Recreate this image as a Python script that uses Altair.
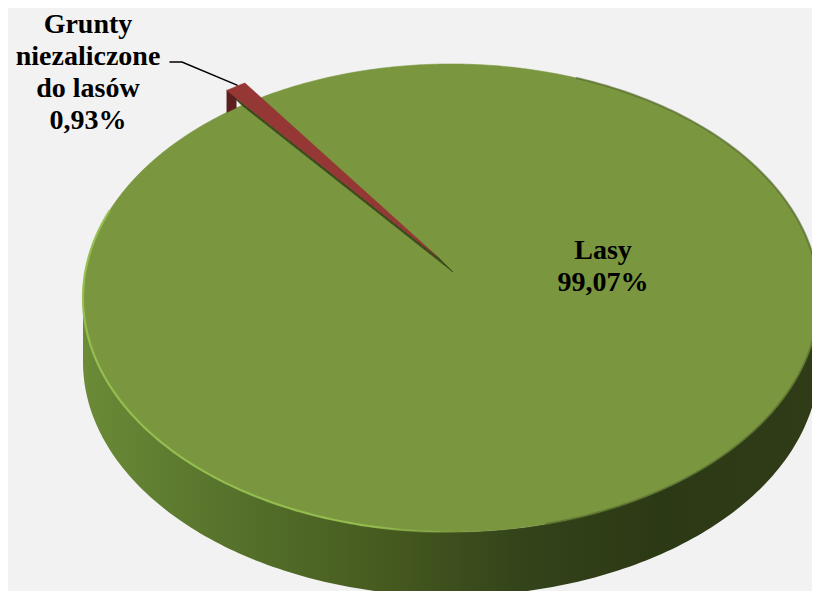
import math
import altair as alt
import pandas as pd

# ---------------- data ----------------
categories = ["Lasy", "Grunty\nniezaliczone\ndo lasów"]
values = [99.07, 0.93]

# ---------------- styles / layout ----------------
slice_colors = ["#7a963e", "#953735"]
wall_dark_red = "#5b1f1e"
gap_color = "#3b4a1b"
FONT = "'Liberation Serif', 'DejaVu Serif', serif"
W, H = 804, 583          # plot area (page px = data px, page margin 8)
OFF = 8
EX, EY, RX, RY = 451, 298, 368, 234   # projected top-face ellipse
CX, CY = 453, 272                      # projected pie centre
DEPTH = 64
START = 328.75                          # angle of first slice (deg, clockwise from 12 o'clock)
EXPLODE = [0, 28]
label_pos = [(603, 259), (88, 33)]
leader_start = [(170, 62), (182, 62)]

X = alt.X("x:Q", scale=alt.Scale(domain=[OFF, OFF + W], nice=False, zero=False), axis=None)
Y = alt.Y("y:Q", scale=alt.Scale(domain=[OFF, OFF + H], nice=False, zero=False, reverse=True), axis=None)


def rim(theta, ox=0.0, oy=0.0, dy=0.0):
    t = math.radians(theta)
    return (EX + RX * math.sin(t) + ox, EY - RY * math.cos(t) + oy + dy)


def arc_pts(a0, a1, step=1.0, **kw):
    n = max(2, int(math.ceil(abs(a1 - a0) / step)))
    return [rim(a0 + (a1 - a0) * i / n, **kw) for i in range(n + 1)]


def top_y(x):
    u = max(-1.0, min(1.0, (x - EX) / RX))
    return EY - RY * math.sqrt(1 - u * u)


def frame(pts):
    return pd.DataFrame({"x": [p[0] for p in pts], "y": [p[1] for p in pts], "i": list(range(len(pts)))})


def poly(pts, fill, sw=0.0, stroke=None):
    kw = dict(fill=fill, strokeWidth=sw, clip=True)
    kw["stroke"] = stroke if stroke is not None else (fill if isinstance(fill, str) else "transparent")
    return alt.Chart(frame(pts)).mark_line(**kw).encode(x=X, y=Y, order="i:Q")


def line(pts, stroke, sw, opacity=1.0):
    return alt.Chart(frame(pts)).mark_line(stroke=stroke, strokeWidth=sw, opacity=opacity, clip=True,
                                           strokeCap="round").encode(x=X, y=Y, order="i:Q")


# slice angles from the values
total = sum(values)
angles = []
a = START
for v in values:
    span = 360.0 * v / total
    angles.append((a, a + span))
    a += span

layers = []

# side wall (front half)
wall_pts = arc_pts(90, 270) + arc_pts(270, 90, dy=DEPTH)
wall_grad = alt.LinearGradient(
    gradient="linear", x1=0, x2=1, y1=0, y2=0,
    stops=[
        alt.GradientStop(offset=0.0, color="#6b8b37"),
        alt.GradientStop(offset=0.2, color="#56722b"),
        alt.GradientStop(offset=0.42, color="#45591f"),
        alt.GradientStop(offset=0.6, color="#33431a"),
        alt.GradientStop(offset=0.78, color="#2c3915"),
        alt.GradientStop(offset=1.0, color="#2f3c17"),
    ],
)
layers.append(poly(wall_pts, wall_grad))

# slices (top faces)
wedges = []
for (a0, a1), e, col in zip(angles, EXPLODE, slice_colors):
    mid = math.radians((a0 + a1) / 2)
    ox = e * math.sin(mid)
    oy = -e * math.cos(mid) * RY / RX
    apex = (CX + ox, CY + oy)
    rim_pts = arc_pts(a0, a1, step=0.5, ox=ox, oy=oy)
    wedges.append((apex, rim_pts, ox, oy, a0, a1, col))

# green slice first
g_apex, g_rim, _, _, _, _, g_col = wedges[0]
layers.append(poly([g_apex] + g_rim + [g_apex], g_col, sw=0.6))

# rim highlight (front-left) and dark edge (right)
hl_grad = alt.LinearGradient(
    gradient="linear", x1=0, x2=1, y1=0, y2=0,
    stops=[
        alt.GradientStop(offset=0.0, color="rgba(150,192,80,0.95)"),
        alt.GradientStop(offset=0.75, color="rgba(150,192,80,0.9)"),
        alt.GradientStop(offset=1.0, color="rgba(150,192,80,0)"),
    ],
)
layers.append(alt.Chart(frame(arc_pts(292, 178))).mark_line(stroke=hl_grad, strokeWidth=2.2, clip=True)
              .encode(x=X, y=Y, order="i:Q"))
layers.append(line(arc_pts(20, 165), "#4d6126", 2.2, 0.55))

# exploded small slice: gap (radial wall of the big slice), visible radial wall, then its top
apex, rim_pts, ox, oy, a0, a1, col = wedges[1]
layers.append(poly([g_apex, g_rim[-1], rim_pts[0], apex, g_apex], gap_color, sw=0.8))
r0 = rim_pts[0]
dx, dy = apex[0] - r0[0], apex[1] - r0[1]
dl = math.hypot(dx, dy)
m = (r0[0] + 12 * dx / dl, r0[1] + 12 * dy / dl)
side = [r0, m, (m[0], max(m[1], top_y(m[0]))), (r0[0], max(r0[1], top_y(r0[0]))), r0]
layers.append(poly(side, wall_dark_red, sw=0.5))
layers.append(poly([apex] + rim_pts + [apex], col, sw=0.6))

# leader line to the small slice
mid_rim = rim_pts[len(rim_pts) // 2]
layers.append(line(leader_start + [(mid_rim[0], mid_rim[1] - 1)], "black", 1.5))

# labels
texts = [f"{c}\n{v:.2f}".replace(".", ",") + "%" for c, v in zip(categories, values)]
lab = pd.DataFrame({"x": [p[0] for p in label_pos], "y": [p[1] for p in label_pos], "t": texts})
layers.append(
    alt.Chart(lab).mark_text(font=FONT, fontWeight="bold", fontSize=28, lineBreak="\n",
                             lineHeight=32, align="center", baseline="alphabetic", color="black")
    .encode(x=X, y=Y, text="t:N")
)

chart = (
    alt.layer(*layers)
    .properties(width=W, height=H, background="#f2f2f2", padding=0)
    .configure_view(strokeWidth=0)
)
chart.save("out.html", embed_options={"renderer": "svg", "actions": False})
